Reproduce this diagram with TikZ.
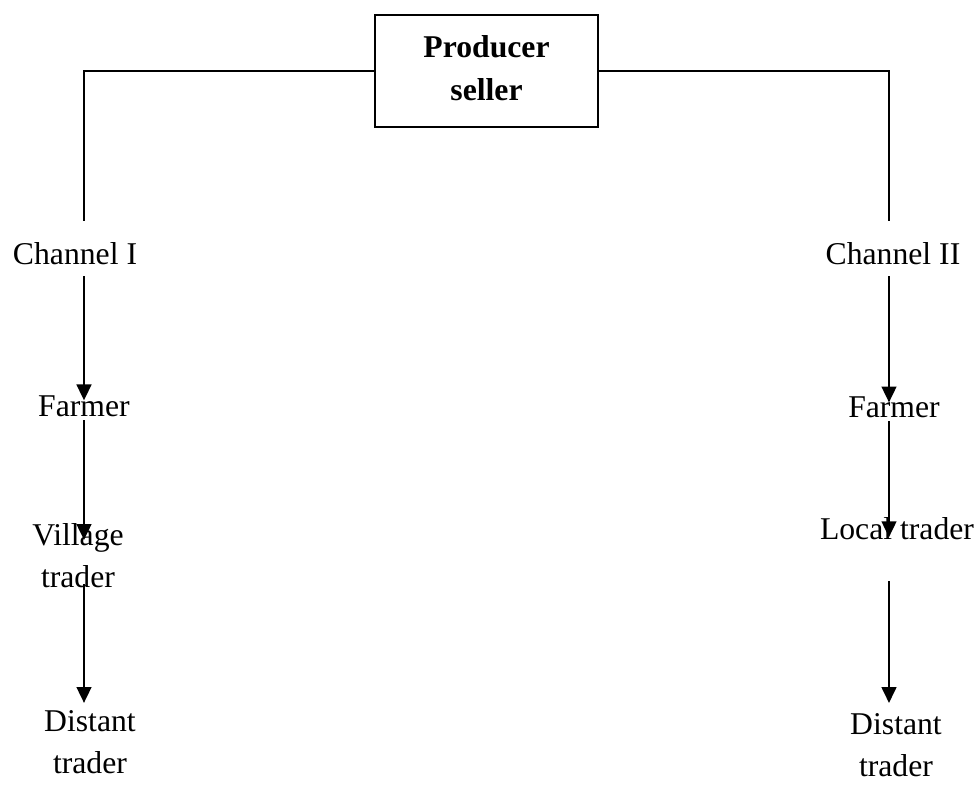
\documentclass[tikz,border=0pt]{standalone}
\usepackage{fontspec}
\setmainfont{Liberation Serif}
\usepackage{tikz}
\usetikzlibrary{arrows.meta}
\usetikzlibrary{positioning}
\tikzset{lbl/.style = {inner sep = 0, align = center, font = \fontsize{12}{15.9}\selectfont}}
\tikzset{arr/.style = {-{Triangle[length=6pt, width=5.6pt]}}}
\tikzset{topbox/.style = {draw, inner sep = 0, align = center, minimum width = 84.5pt, minimum height = 42.4pt, font = \fontsize{12}{16.3}\selectfont\bfseries}}

\begin{document}
\begin{tikzpicture}[x=0.3787pt, y=-0.3787pt, line width=0.75pt]
      \useasboundingbox (0, 0) rectangle (978, 787);
      \node [topbox] (prod) at (486.5, 71) {Producer\\seller\vphantom{q}};
      \coordinate (colL) at (84, 0);
      \coordinate (colR) at (889, 0);
      \node [lbl, anchor=base] (ch1) at (75, 264) {Channel I};
      \node [lbl, anchor=base] (ch2) at (893, 264) {Channel II};
      \node [lbl, anchor=base] (farm1) at (84, 416) {Farmer};
      \node [lbl, anchor=base] (farm2) at (894, 417) {Farmer};
      \node [lbl, anchor=north] (vil1) at (78, 523) {Village\\trader};
      \node [lbl, anchor=base] (loc2) at (897, 539) {Local trader};
      \node [lbl, anchor=north] (dist1) at (90, 710) {Distant\\trader};
      \node [lbl, anchor=north] (dist2) at (896, 713) {Distant\\trader};
      \draw [shorten >=7.6pt] (prod.west) -- (prod.west -| colL) -- (ch1.north -| colL);
      \draw [shorten >=7.6pt] (prod.east) -- (prod.east -| colR) -- (ch2.north -| colR);
      \draw [arr, shorten <=4.2pt, shorten >=-2.3pt] (ch1.south -| colL) -- (farm1.north -| colL);
      \draw [arr, shorten <=1.1pt, shorten >=-6.4pt] (farm1.south -| colL) -- (vil1.north -| colL);
      \draw [arr, shorten <=-1.9pt, shorten >=2.7pt] (vil1.south -| colL) -- (dist1.north -| colL);
      \draw [arr, shorten <=4.2pt, shorten >=-2.7pt] (ch2.south -| colR) -- (farm2.north -| colR);
      \draw [arr, shorten <=1.1pt, shorten >=-8pt] (farm2.south -| colR) -- (loc2.north -| colR);
      \draw [arr, shorten <=15.5pt, shorten >=3.8pt] (loc2.south -| colR) -- (dist2.north -| colR);
    \end{tikzpicture}
\end{document}
